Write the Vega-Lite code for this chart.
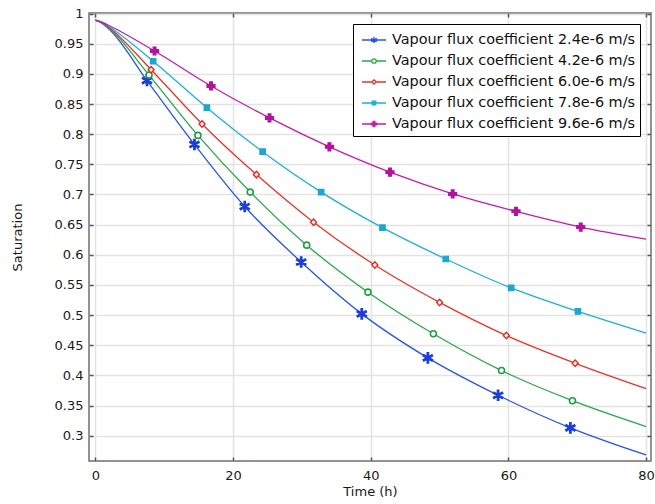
{
  "$schema": "https://vega.github.io/schema/vega-lite/v6.json",
  "width": 562,
  "height": 448,
  "autosize": {"type": "none"},
  "padding": {"left": 89, "top": 13, "right": 4, "bottom": 43},
  "background": "white",
  "config": {
    "font": "DejaVu Sans",
    "view": {"stroke": "#6f6f6f", "strokeWidth": 1.5},
    "axis": {
      "labelFont": "DejaVu Sans",
      "labelFontSize": 13,
      "labelColor": "#1a1a1a",
      "titleFont": "DejaVu Sans",
      "titleFontSize": 13,
      "titleFontWeight": "normal",
      "titleColor": "#1a1a1a",
      "gridColor": "#e3e3e3",
      "gridWidth": 1.5,
      "domain": false,
      "tickColor": "#555555",
      "tickSize": -4,
      "tickWidth": 1.5
    },
    "legend": {
      "labelFont": "DejaVu Sans",
      "labelFontSize": 14.4,
      "labelColor": "#111111",
      "labelLimit": 400,
      "padding": 5,
      "fillColor": "#ffffff",
      "strokeColor": "#000000",
      "symbolSize": 400,
      "symbolOffset": 5,
      "labelOffset": 7,
      "rowPadding": 3
    }
  },
  "data": {
    "values": [
      {"curve": "Vapour flux coefficient 2.4e-6 m/s", "t": 0, "s": 0.989, "m": 0},
      {"curve": "Vapour flux coefficient 2.4e-6 m/s", "t": 1.1, "s": 0.983, "m": 0},
      {"curve": "Vapour flux coefficient 2.4e-6 m/s", "t": 2.2, "s": 0.972, "m": 0},
      {"curve": "Vapour flux coefficient 2.4e-6 m/s", "t": 7.5, "s": 0.889, "m": 1},
      {"curve": "Vapour flux coefficient 2.4e-6 m/s", "t": 14.4, "s": 0.783, "m": 1},
      {"curve": "Vapour flux coefficient 2.4e-6 m/s", "t": 21.7, "s": 0.680, "m": 1},
      {"curve": "Vapour flux coefficient 2.4e-6 m/s", "t": 29.9, "s": 0.588, "m": 1},
      {"curve": "Vapour flux coefficient 2.4e-6 m/s", "t": 38.7, "s": 0.502, "m": 1},
      {"curve": "Vapour flux coefficient 2.4e-6 m/s", "t": 48.3, "s": 0.429, "m": 1},
      {"curve": "Vapour flux coefficient 2.4e-6 m/s", "t": 58.5, "s": 0.367, "m": 1},
      {"curve": "Vapour flux coefficient 2.4e-6 m/s", "t": 69.0, "s": 0.313, "m": 1},
      {"curve": "Vapour flux coefficient 2.4e-6 m/s", "t": 80, "s": 0.268, "m": 0},

      {"curve": "Vapour flux coefficient 4.2e-6 m/s", "t": 0, "s": 0.989, "m": 0},
      {"curve": "Vapour flux coefficient 4.2e-6 m/s", "t": 1.1, "s": 0.984, "m": 0},
      {"curve": "Vapour flux coefficient 4.2e-6 m/s", "t": 2.2, "s": 0.974, "m": 0},
      {"curve": "Vapour flux coefficient 4.2e-6 m/s", "t": 7.8, "s": 0.898, "m": 1},
      {"curve": "Vapour flux coefficient 4.2e-6 m/s", "t": 14.9, "s": 0.798, "m": 1},
      {"curve": "Vapour flux coefficient 4.2e-6 m/s", "t": 22.5, "s": 0.704, "m": 1},
      {"curve": "Vapour flux coefficient 4.2e-6 m/s", "t": 30.7, "s": 0.616, "m": 1},
      {"curve": "Vapour flux coefficient 4.2e-6 m/s", "t": 39.6, "s": 0.538, "m": 1},
      {"curve": "Vapour flux coefficient 4.2e-6 m/s", "t": 49.1, "s": 0.469, "m": 1},
      {"curve": "Vapour flux coefficient 4.2e-6 m/s", "t": 59.0, "s": 0.408, "m": 1},
      {"curve": "Vapour flux coefficient 4.2e-6 m/s", "t": 69.3, "s": 0.358, "m": 1},
      {"curve": "Vapour flux coefficient 4.2e-6 m/s", "t": 80, "s": 0.315, "m": 0},

      {"curve": "Vapour flux coefficient 6.0e-6 m/s", "t": 0, "s": 0.989, "m": 0},
      {"curve": "Vapour flux coefficient 6.0e-6 m/s", "t": 1.1, "s": 0.984, "m": 0},
      {"curve": "Vapour flux coefficient 6.0e-6 m/s", "t": 2.2, "s": 0.975, "m": 0},
      {"curve": "Vapour flux coefficient 6.0e-6 m/s", "t": 8.1, "s": 0.907, "m": 1},
      {"curve": "Vapour flux coefficient 6.0e-6 m/s", "t": 15.5, "s": 0.817, "m": 1},
      {"curve": "Vapour flux coefficient 6.0e-6 m/s", "t": 23.4, "s": 0.733, "m": 1},
      {"curve": "Vapour flux coefficient 6.0e-6 m/s", "t": 31.7, "s": 0.654, "m": 1},
      {"curve": "Vapour flux coefficient 6.0e-6 m/s", "t": 40.6, "s": 0.583, "m": 1},
      {"curve": "Vapour flux coefficient 6.0e-6 m/s", "t": 50.0, "s": 0.521, "m": 1},
      {"curve": "Vapour flux coefficient 6.0e-6 m/s", "t": 59.7, "s": 0.466, "m": 1},
      {"curve": "Vapour flux coefficient 6.0e-6 m/s", "t": 69.7, "s": 0.420, "m": 1},
      {"curve": "Vapour flux coefficient 6.0e-6 m/s", "t": 80, "s": 0.378, "m": 0},

      {"curve": "Vapour flux coefficient 7.8e-6 m/s", "t": 0, "s": 0.989, "m": 0},
      {"curve": "Vapour flux coefficient 7.8e-6 m/s", "t": 1.1, "s": 0.985, "m": 0},
      {"curve": "Vapour flux coefficient 7.8e-6 m/s", "t": 2.2, "s": 0.977, "m": 0},
      {"curve": "Vapour flux coefficient 7.8e-6 m/s", "t": 8.4, "s": 0.921, "m": 1},
      {"curve": "Vapour flux coefficient 7.8e-6 m/s", "t": 16.2, "s": 0.844, "m": 1},
      {"curve": "Vapour flux coefficient 7.8e-6 m/s", "t": 24.3, "s": 0.771, "m": 1},
      {"curve": "Vapour flux coefficient 7.8e-6 m/s", "t": 32.8, "s": 0.704, "m": 1},
      {"curve": "Vapour flux coefficient 7.8e-6 m/s", "t": 41.7, "s": 0.645, "m": 1},
      {"curve": "Vapour flux coefficient 7.8e-6 m/s", "t": 50.9, "s": 0.593, "m": 1},
      {"curve": "Vapour flux coefficient 7.8e-6 m/s", "t": 60.4, "s": 0.545, "m": 1},
      {"curve": "Vapour flux coefficient 7.8e-6 m/s", "t": 70.1, "s": 0.506, "m": 1},
      {"curve": "Vapour flux coefficient 7.8e-6 m/s", "t": 80, "s": 0.470, "m": 0},

      {"curve": "Vapour flux coefficient 9.6e-6 m/s", "t": 0, "s": 0.989, "m": 0},
      {"curve": "Vapour flux coefficient 9.6e-6 m/s", "t": 1.1, "s": 0.985, "m": 0},
      {"curve": "Vapour flux coefficient 9.6e-6 m/s", "t": 2.2, "s": 0.979, "m": 0},
      {"curve": "Vapour flux coefficient 9.6e-6 m/s", "t": 8.6, "s": 0.938, "m": 1},
      {"curve": "Vapour flux coefficient 9.6e-6 m/s", "t": 16.8, "s": 0.880, "m": 1},
      {"curve": "Vapour flux coefficient 9.6e-6 m/s", "t": 25.3, "s": 0.827, "m": 1},
      {"curve": "Vapour flux coefficient 9.6e-6 m/s", "t": 34.0, "s": 0.779, "m": 1},
      {"curve": "Vapour flux coefficient 9.6e-6 m/s", "t": 42.8, "s": 0.737, "m": 1},
      {"curve": "Vapour flux coefficient 9.6e-6 m/s", "t": 51.9, "s": 0.701, "m": 1},
      {"curve": "Vapour flux coefficient 9.6e-6 m/s", "t": 61.1, "s": 0.672, "m": 1},
      {"curve": "Vapour flux coefficient 9.6e-6 m/s", "t": 70.5, "s": 0.646, "m": 1},
      {"curve": "Vapour flux coefficient 9.6e-6 m/s", "t": 80, "s": 0.626, "m": 0}
    ]
  },
  "layer": [
    {
      "mark": {"type": "line", "interpolate": "monotone", "strokeWidth": 1.3},
      "encoding": {
        "x": {
          "field": "t", "type": "quantitative",
          "scale": {"domain": [-0.92, 80.71], "nice": false, "zero": false},
          "axis": {"title": "Time (h)", "values": [0, 20, 40, 60, 80], "labelPadding": 12, "titlePadding": 3}
        },
        "y": {
          "field": "s", "type": "quantitative",
          "scale": {"domain": [0.258, 1.001], "nice": false, "zero": false},
          "axis": {
            "title": "Saturation",
            "values": [0.3, 0.35, 0.4, 0.45, 0.5, 0.55, 0.6, 0.65, 0.7, 0.75, 0.8, 0.85, 0.9, 0.95, 1],
            "format": ".2~f",
            "labelPadding": 10,
            "titlePadding": 30
          }
        },
        "color": {
          "field": "curve", "type": "nominal",
          "scale": {
            "domain": ["Vapour flux coefficient 2.4e-6 m/s", "Vapour flux coefficient 4.2e-6 m/s", "Vapour flux coefficient 6.0e-6 m/s", "Vapour flux coefficient 7.8e-6 m/s", "Vapour flux coefficient 9.6e-6 m/s"],
            "range": ["#2a55e6", "#2aa84a", "#e8332b", "#1cb0d8", "#c21cae"]
          },
          "legend": {
            "title": null,
            "orient": "none",
            "legendX": 264,
            "legendY": 11,
            "encode": {
              "symbols": {
                "update": {
                  "shape": {"signal": "datum.value === 'Vapour flux coefficient 2.4e-6 m/s' ? 'M-1.2,0L1.2,0M0,-0.32L0,0.32M-0.28,-0.16L0.28,0.16M-0.28,0.16L0.28,-0.16' : datum.value === 'Vapour flux coefficient 4.2e-6 m/s' ? 'M-1.2,0L-0.22,0M0.22,0L1.2,0M0.22,0A0.22,0.22 0 1 1 -0.22,0A0.22,0.22 0 1 1 0.22,0Z' : datum.value === 'Vapour flux coefficient 6.0e-6 m/s' ? 'M-1.2,0L-0.22,0M0.22,0L1.2,0M0,-0.22L0.22,0L0,0.22L-0.22,0Z' : datum.value === 'Vapour flux coefficient 7.8e-6 m/s' ? 'M-1.2,0L1.2,0M-0.18,-0.18L0.18,-0.18L0.18,0.18L-0.18,0.18Z' : 'M-1.2,0L1.2,0M-0.08,-0.26L0.08,-0.26L0.08,-0.08L0.26,-0.08L0.26,0.08L0.08,0.08L0.08,0.26L-0.08,0.26L-0.08,0.08L-0.26,0.08L-0.26,-0.08L-0.08,-0.08Z'"},
                  "fill": {"signal": "datum.value === 'Vapour flux coefficient 7.8e-6 m/s' ? '#1cb0d8' : datum.value === 'Vapour flux coefficient 9.6e-6 m/s' ? '#c21cae' : '#ffffff'"},
                  "strokeWidth": {"value": 1.3},
                  "opacity": {"value": 1},
                  "fillOpacity": {"value": 1},
                  "strokeOpacity": {"value": 1}
                }
              }
            }
          }
        }
      }
    },
    {
      "transform": [{"filter": "datum.m == 1 && datum.curve == 'Vapour flux coefficient 2.4e-6 m/s'"}],
      "mark": {"type": "point", "size": 100, "strokeWidth": 1.6, "opacity": 1, "filled": true,
        "shape": "M-0.12,-1L0.12,-1L0.12,1L-0.12,1ZM0.806,-0.604L0.926,-0.396L-0.806,0.604L-0.926,0.396ZM-0.926,-0.396L-0.806,-0.604L0.926,0.396L0.806,0.604Z",
        "fill": "#1a3fd8", "stroke": "#1a3fd8"},
      "encoding": {
        "x": {
          "field": "t", "type": "quantitative",
          "scale": {"domain": [-0.92, 80.71], "nice": false, "zero": false},
          "axis": {"orient": "top", "title": null, "labels": false, "grid": false, "values": [0, 20, 40, 60, 80]}
        },
        "y": {
          "field": "s", "type": "quantitative",
          "scale": {"domain": [0.258, 1.001], "nice": false, "zero": false},
          "axis": {"orient": "right", "title": null, "labels": false, "grid": false,
            "values": [0.3, 0.35, 0.4, 0.45, 0.5, 0.55, 0.6, 0.65, 0.7, 0.75, 0.8, 0.85, 0.9, 0.95, 1]}
        }
      }
    },
    {
      "transform": [{"filter": "datum.m == 1 && datum.curve == 'Vapour flux coefficient 4.2e-6 m/s'"}],
      "mark": {"type": "point", "size": 100, "strokeWidth": 1.6, "opacity": 1, "filled": true,
        "shape": "M0.6,0A0.6,0.6 0 1 1 -0.6,0A0.6,0.6 0 1 1 0.6,0Z",
        "fill": "#ffffff", "stroke": "#1fa040"},
      "encoding": {
        "x": {"field": "t", "type": "quantitative", "axis": null},
        "y": {"field": "s", "type": "quantitative", "axis": null}
      }
    },
    {
      "transform": [{"filter": "datum.m == 1 && datum.curve == 'Vapour flux coefficient 6.0e-6 m/s'"}],
      "mark": {"type": "point", "size": 100, "strokeWidth": 1.4, "opacity": 1, "filled": true,
        "shape": "M0,-0.65L0.6,0L0,0.65L-0.6,0Z",
        "fill": "#ffffff", "stroke": "#e42a22"},
      "encoding": {
        "x": {"field": "t", "type": "quantitative", "axis": null},
        "y": {"field": "s", "type": "quantitative", "axis": null}
      }
    },
    {
      "transform": [{"filter": "datum.m == 1 && datum.curve == 'Vapour flux coefficient 7.8e-6 m/s'"}],
      "mark": {"type": "point", "size": 100, "strokeWidth": 1.2, "opacity": 1, "filled": true,
        "shape": "M-0.55,-0.55L0.55,-0.55L0.55,0.55L-0.55,0.55Z",
        "fill": "#1aa8d0", "stroke": "#1aa8d0"},
      "encoding": {
        "x": {"field": "t", "type": "quantitative", "axis": null},
        "y": {"field": "s", "type": "quantitative", "axis": null}
      }
    },
    {
      "transform": [{"filter": "datum.m == 1 && datum.curve == 'Vapour flux coefficient 9.6e-6 m/s'"}],
      "mark": {"type": "point", "size": 100, "strokeWidth": 1.2, "opacity": 1, "filled": true,
        "shape": "M-0.28,-0.8L0.28,-0.8L0.28,-0.28L0.8,-0.28L0.8,0.28L0.28,0.28L0.28,0.8L-0.28,0.8L-0.28,0.28L-0.8,0.28L-0.8,-0.28L-0.28,-0.28Z",
        "fill": "#b0149f", "stroke": "#b0149f"},
      "encoding": {
        "x": {"field": "t", "type": "quantitative", "axis": null},
        "y": {"field": "s", "type": "quantitative", "axis": null}
      }
    }
  ],
  "resolve": {"axis": {"x": "independent", "y": "independent"}}
}
